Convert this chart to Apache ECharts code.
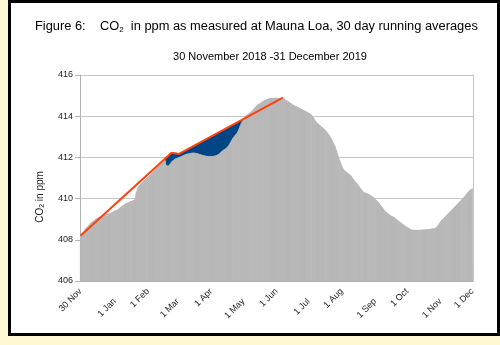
<!DOCTYPE html>
<html><head><meta charset="utf-8">
<script src="https://cdn.jsdelivr.net/npm/echarts@6/dist/echarts.min.js"></script>
<style>html,body{margin:0;padding:0;background:#fff6d2;}#c{width:500px;height:345px;}</style>
</head><body><div id="c"></div>
<script>
// Daily 30-day running average CO2 (ppm), 30 Nov 2018 .. 1 Dec 2019 (367 days)
const co2 = [
408.25,408.30,408.36,408.42,408.50,408.55,408.61,408.67,408.73,408.80,
408.84,408.88,408.92,408.96,409.00,409.03,409.06,409.09,409.12,409.14,
409.16,409.18,409.20,409.22,409.24,409.25,409.27,409.28,409.30,409.32,
409.35,409.38,409.41,409.43,409.45,409.48,409.52,409.56,409.60,409.65,
409.69,409.72,409.75,409.77,409.80,409.82,409.85,409.87,409.89,409.91,
409.93,410.00,410.30,410.50,410.58,410.64,410.70,410.74,410.80,410.85,
410.90,410.95,411.00,411.05,411.10,411.15,411.20,411.26,411.31,411.37,
411.42,411.47,411.52,411.58,411.63,411.68,411.74,411.79,411.82,411.85,
411.63,411.55,411.60,411.65,411.72,411.80,411.84,411.88,411.92,411.95,
411.97,411.99,412.01,412.03,412.05,412.08,412.10,412.12,412.15,412.17,
412.18,412.19,412.20,412.21,412.22,412.23,412.23,412.22,412.21,412.20,
412.18,412.17,412.15,412.13,412.11,412.10,412.09,412.08,412.07,412.07,
412.06,412.06,412.06,412.07,412.07,412.08,412.09,412.10,412.13,412.16,
412.20,412.25,412.30,412.35,412.38,412.41,412.44,412.50,412.57,412.65,
412.75,412.84,412.92,413.00,413.06,413.12,413.17,413.28,413.40,413.53,
413.66,413.75,413.84,413.92,414.00,414.06,414.09,414.12,414.15,414.20,
414.25,414.30,414.37,414.43,414.50,414.54,414.58,414.61,414.63,414.67,
414.71,414.75,414.78,414.80,414.82,414.84,414.86,414.87,414.88,414.88,
414.88,414.89,414.89,414.88,414.88,414.88,414.87,414.87,414.87,414.87,
414.84,414.81,414.78,414.75,414.71,414.68,414.64,414.61,414.57,414.54,
414.51,414.49,414.46,414.43,414.41,414.38,414.35,414.33,414.30,414.27,
414.24,414.22,414.19,414.16,414.13,414.10,414.05,413.97,413.90,413.80,
413.73,413.68,413.63,413.58,413.54,413.49,413.45,413.40,413.35,413.30,
413.25,413.17,413.09,413.01,412.93,412.83,412.72,412.62,412.52,412.36,
412.20,412.03,411.88,411.74,411.60,411.47,411.40,411.35,411.30,411.26,
411.22,411.18,411.15,411.08,411.01,410.94,410.87,410.80,410.74,410.67,
410.60,410.53,410.46,410.40,410.33,410.30,410.28,410.26,410.24,410.22,
410.19,410.15,410.12,410.09,410.04,409.99,409.93,409.88,409.83,409.77,
409.70,409.63,409.56,409.50,409.43,409.36,409.32,409.28,409.24,409.20,
409.16,409.14,409.12,409.08,409.04,409.00,408.96,408.92,408.88,408.84,
408.80,408.76,408.72,408.68,408.64,408.61,408.58,408.55,408.52,408.50,
408.48,408.48,408.48,408.48,408.48,408.48,408.48,408.48,408.49,408.49,
408.49,408.49,408.50,408.50,408.50,408.51,408.52,408.53,408.54,408.55,
408.55,408.56,408.60,408.66,408.72,408.80,408.88,408.95,409.00,409.04,
409.10,409.15,409.20,409.26,409.31,409.36,409.42,409.47,409.53,409.58,
409.64,409.69,409.74,409.80,409.85,409.90,409.96,410.01,410.07,410.13,
410.20,410.26,410.33,410.38,410.43,410.47,410.50
];
// Red trend line vertices [dayIndex, ppm]
const trendDays = [0, 85, 92, 189];
const trendValues = [408.20, 412.23, 412.17, 414.90];
// Blue shaded gap (top edge follows trend line) [dayIndex, ppm]
const gapDays = [79, 85, 92, 152];
const gapValues = [411.95, 412.23, 412.17, 413.86];
// Tick labels and the day index where each sits
const tickLabels = ['30 Nov','1 Jan','1 Feb','1 Mar','1 Apr','1 May','1 Jun','1 Jul','1 Aug','1 Sep','1 Oct','1 Nov','1 Dec'];
const tickDays = [0,32,63,91,122,152,183,213,244,275,305,336,366];
const yTicks = [406,408,410,412,414,416];

const categories = [];
const start = new Date(Date.UTC(2018,10,30));
for (let i = 0; i < co2.length; i++) {
  const d = new Date(start.getTime() + i*86400000);
  categories.push(d.toISOString().slice(0,10));
}
const labelMap = {};
tickDays.forEach((d,i)=>{ labelMap[d] = {text: tickLabels[i], row: i % 2}; });

const FONT = 'Liberation Sans, Arial, sans-serif';
function xAxisFor(row, margin, showLine) {
  return {
    type: 'category', data: categories, position: 'bottom', boundaryGap: true,
    axisLine: {show: showLine, lineStyle: {color: '#b3b3b3', width: 1}},
    axisTick: {show: false},
    splitLine: {show: false},
    axisLabel: {
      interval: (idx) => labelMap[idx] !== undefined && labelMap[idx].row === row,
      formatter: (v, idx) => labelMap[idx] ? labelMap[idx].text : '',
      rotate: 45, margin: margin, fontSize: 9, color: '#222', fontFamily: FONT
    }
  };
}

const chart = echarts.init(document.getElementById('c'), null, {renderer: 'canvas'});
chart.setOption({
  animation: false,
  backgroundColor: '#fff6d2',
  graphic: [
    {type: 'rect', z: -10, shape: {x: 9.5, y: 1.5, width: 489, height: 333},
     style: {fill: '#ffffff', stroke: '#000000', lineWidth: 3}},
    {type: 'text', x: 40, y: 197, rotation: Math.PI/2,
     style: {text: 'CO{s|2} in ppm', fontSize: 10, fontFamily: FONT, fill: '#222', align: 'center', verticalAlign: 'middle',
       rich: {s: {fontSize: 7, fontFamily: FONT, fill: '#222', padding: [5,0,0,0]}}}}
  ],
  title: [
    {text: 'Figure 6:    CO{s|2}  in ppm as measured at Mauna Loa, 30 day running averages',
     left: 35, top: 19, padding: 0,
     textStyle: {fontSize: 12.85, fontWeight: 'normal', color: '#000', fontFamily: FONT,
       rich: {s: {fontSize: 8, color: '#000', fontFamily: FONT, padding: [7,0,0,0]}}}},
    {text: '30 November 2018 -31 December 2019', left: 270, textAlign: 'center', top: 51, padding: 0,
     textStyle: {fontSize: 11, fontWeight: 'normal', color: '#000', fontFamily: FONT}}
  ],
  grid: {left: 80, right: 27, top: 75, bottom: 64, containLabel: false},
  xAxis: [xAxisFor(0, 9, true), xAxisFor(1, 19, false)],
  yAxis: [
    {type: 'value', min: 406, max: 416, interval: 2, position: 'left',
     axisLine: {show: true, lineStyle: {color: '#b3b3b3'}},
     axisTick: {show: true, length: 5, lineStyle: {color: '#b3b3b3'}},
     splitLine: {show: true, lineStyle: {color: '#c6c6c6'}},
     axisLabel: {fontSize: 9, color: '#222', fontFamily: FONT, margin: 7,
       formatter: (v) => yTicks.indexOf(v) >= 0 ? String(v) : ''}},
    {type: 'value', min: 406, max: 416, interval: 2, position: 'right',
     axisLine: {show: true, lineStyle: {color: '#c6c6c6'}},
     axisTick: {show: false}, axisLabel: {show: false}, splitLine: {show: false}}
  ],
  series: [
    {type: 'line', name: 'gap', xAxisIndex: 0, yAxisIndex: 0, z: 1,
     data: gapDays.map((d,i)=>[d, gapValues[i]]), connectNulls: true,
     symbol: 'none', lineStyle: {width: 0}, areaStyle: {color: '#004586', opacity: 1}},
    {type: 'line', name: 'CO2 backing', xAxisIndex: 0, yAxisIndex: 0, z: 2,
     data: co2, symbol: 'none', silent: true,
     lineStyle: {width: 0}, areaStyle: {color: '#c6c6c6', opacity: 1}},
    {type: 'bar', name: 'CO2', xAxisIndex: 0, yAxisIndex: 0, z: 3,
     data: co2, barCategoryGap: '0%',
     itemStyle: {color: '#c6c6c6', borderColor: '#a8a8a8', borderWidth: 0.3}},
    {type: 'line', name: 'trend', xAxisIndex: 0, yAxisIndex: 0, z: 4,
     data: trendDays.map((d,i)=>[d, trendValues[i]]),
     symbol: 'none', lineStyle: {color: '#ff420e', width: 2}}
  ]
});
</script></body></html>
